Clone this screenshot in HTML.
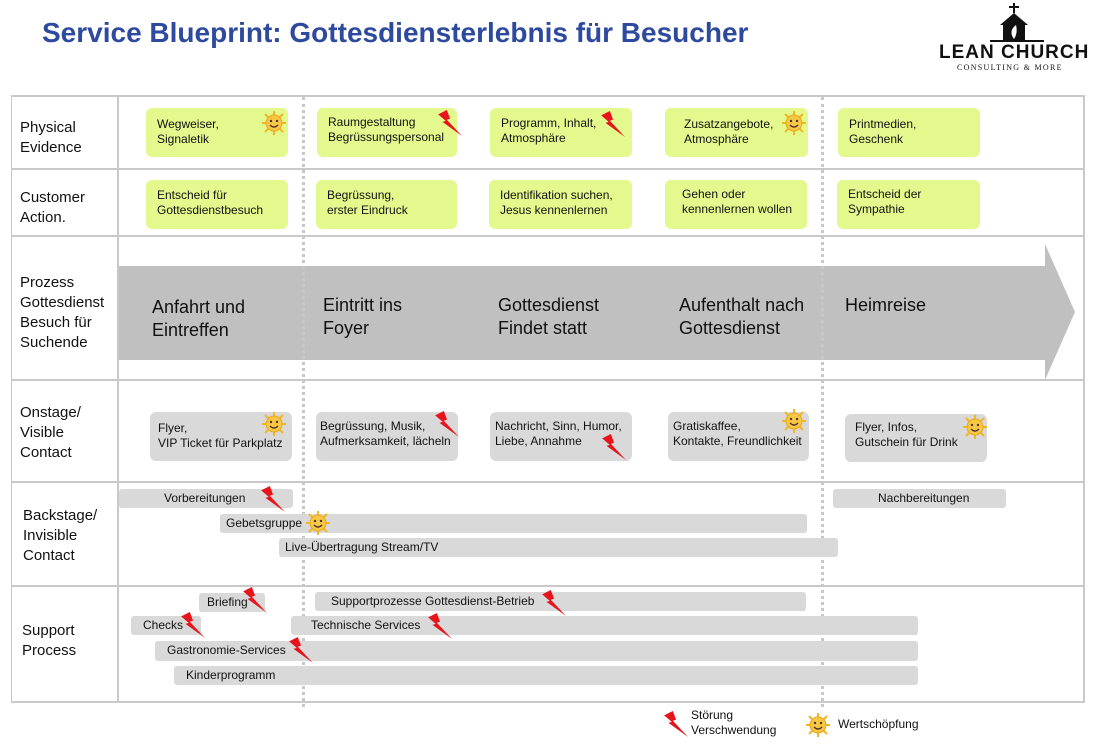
<!DOCTYPE html>
<html><head><meta charset="utf-8"><style>
body{margin:0;width:1107px;height:751px;background:#fff;position:relative;overflow:hidden;font-family:"Liberation Sans",Arial,sans-serif;color:#111}
.a{position:absolute}
.h{position:absolute;left:11px;width:1073px;height:2px;background:#c9c9c9}
.lbl{position:absolute;left:20px;font-size:15px;line-height:20px;color:#111}
.g{position:absolute;background:#e4f98d;border-radius:6px;font-size:12px;line-height:15px;box-sizing:border-box;padding-left:11px;padding-top:9px}
.o{position:absolute;background:#d9d9d9;border-radius:6px;font-size:12px;line-height:15px;box-sizing:border-box;padding-left:8px;padding-top:6px}
.b{position:absolute;background:#d9d9d9;border-radius:3px;font-size:12px;line-height:19px;height:19px;white-space:nowrap}
.p{position:absolute;font-size:18px;line-height:23px;color:#111}
.dash{position:absolute;width:0;border-left:3px dotted #c8c8c8}
</style></head><body>
<svg width="0" height="0" style="position:absolute"><defs>
<symbol id="bolt" viewBox="0 0 24 24"><polygon points="2,4 10,0 13,8 10,9 24,24 6,11 9,10" fill="#e8141b"/></symbol>
<symbol id="sun" viewBox="0 0 24 24"><g stroke="#f0b820" stroke-width="2"><line x1="12" y1="0" x2="12" y2="24"/><line x1="0" y1="12" x2="24" y2="12"/><line x1="3" y1="3" x2="21" y2="21"/><line x1="21" y1="3" x2="3" y2="21"/></g><circle cx="12" cy="12" r="8" fill="#f6c843" stroke="#e8a820"/><circle cx="9" cy="10" r="1.2" fill="#533"/><circle cx="15" cy="10" r="1.2" fill="#533"/><path d="M8 14 Q12 18 16 14" stroke="#533" fill="none" stroke-width="1.3"/></symbol>
</defs></svg>

<div class="a" style="left:42px;top:17px;font-size:28px;font-weight:bold;color:#2e4a9e">Service Blueprint: Gottesdiensterlebnis für Besucher</div>
<svg class="a" style="left:990px;top:3px" width="54" height="40"><rect x="23" y="0" width="2" height="10" fill="#111"/><rect x="19" y="3" width="10" height="2" fill="#111"/><polygon points="10,22 24,10 38,22" fill="#111"/><rect x="13" y="20" width="22" height="18" fill="#111"/><path d="M24 36 Q18 28 26 22 Q28 30 24 36" fill="#fff"/><rect x="0" y="37" width="54" height="2" fill="#111"/></svg>
<div class="a" style="left:939px;top:42px;font-size:19px;font-weight:bold;letter-spacing:1px;color:#111">LEAN CHURCH</div>
<div class="a" style="left:957px;top:63px;font-size:8px;letter-spacing:1.3px;font-family:'Liberation Serif',serif;color:#111">CONSULTING &amp; MORE</div>

<div class="h" style="top:95px"></div>
<div class="h" style="top:168px"></div>
<div class="h" style="top:235px"></div>
<div class="h" style="top:379px"></div>
<div class="h" style="top:481px"></div>
<div class="h" style="top:585px"></div>
<div class="h" style="top:701px"></div>
<div class="a" style="left:11px;top:95px;width:1px;height:608px;background:#c9c9c9"></div>
<div class="a" style="left:117px;top:95px;width:2px;height:608px;background:#c9c9c9"></div>
<div class="a" style="left:1083px;top:95px;width:2px;height:608px;background:#c9c9c9"></div>

<svg class="a" style="left:119px;top:244px" width="960" height="138"><polygon points="0,22 926,22 926,0 956,68 926,136 926,116 0,116" fill="#c0c0c0"/></svg>
<div class="dash" style="left:302px;top:97px;height:610px"></div>
<div class="dash" style="left:821px;top:97px;height:610px"></div>

<div class="lbl" style="top:118px">Physical<br>Evidence</div>
<div class="lbl" style="top:188px">Customer<br>Action.</div>
<div class="lbl" style="top:273px">Prozess<br>Gottesdienst<br>Besuch für<br>Suchende</div>
<div class="lbl" style="top:403px">Onstage/<br>Visible<br>Contact</div>
<div class="lbl" style="top:506px;left:23px">Backstage/<br>Invisible<br>Contact</div>
<div class="lbl" style="top:621px;left:22px">Support<br>Process</div>

<div class="p" style="left:152px;top:296px">Anfahrt und<br>Eintreffen</div>
<div class="p" style="left:323px;top:294px">Eintritt ins<br>Foyer</div>
<div class="p" style="left:498px;top:294px">Gottesdienst<br>Findet statt</div>
<div class="p" style="left:679px;top:294px">Aufenthalt nach<br>Gottesdienst</div>
<div class="p" style="left:845px;top:294px">Heimreise</div>

<div class="g" style="left:146px;top:108px;width:142px;height:49px">Wegweiser,<br>Signaletik</div>
<div class="g" style="left:317px;top:108px;width:140px;height:49px;padding-top:7px">Raumgestaltung<br>Begrüssungspersonal</div>
<div class="g" style="left:490px;top:108px;width:142px;height:49px;padding-top:8px">Programm, Inhalt,<br>Atmosphäre</div>
<div class="g" style="left:665px;top:108px;width:143px;height:49px;padding-left:19px">Zusatzangebote,<br>Atmosphäre</div>
<div class="g" style="left:838px;top:108px;width:142px;height:49px">Printmedien,<br>Geschenk</div>
<div class="g" style="left:146px;top:180px;width:142px;height:49px;padding-top:8px">Entscheid für<br>Gottesdienstbesuch</div>
<div class="g" style="left:316px;top:180px;width:141px;height:49px;padding-top:8px">Begrüssung,<br>erster Eindruck</div>
<div class="g" style="left:489px;top:180px;width:143px;height:49px;padding-top:8px">Identifikation suchen,<br>Jesus kennenlernen</div>
<div class="g" style="left:665px;top:180px;width:142px;height:49px;padding-left:17px;padding-top:7px">Gehen oder<br>kennenlernen wollen</div>
<div class="g" style="left:837px;top:180px;width:143px;height:49px;padding-top:7px">Entscheid der<br>Sympathie</div>
<div class="o" style="left:150px;top:412px;width:142px;height:49px;padding-top:9px">Flyer,<br>VIP Ticket für Parkplatz</div>
<div class="o" style="left:316px;top:412px;width:142px;height:49px;padding-left:4px;padding-top:7px">Begrüssung, Musik,<br>Aufmerksamkeit, lächeln</div>
<div class="o" style="left:490px;top:412px;width:142px;height:49px;padding-left:5px;padding-top:7px">Nachricht, Sinn, Humor,<br>Liebe, Annahme</div>
<div class="o" style="left:668px;top:412px;width:141px;height:49px;padding-left:5px;padding-top:7px">Gratiskaffee,<br>Kontakte, Freundlichkeit</div>
<div class="o" style="left:845px;top:414px;width:142px;height:48px;padding-left:10px;padding-top:6px">Flyer, Infos,<br>Gutschein für Drink</div>
<div class="b" style="left:119px;top:489px;width:174px;padding-left:45px;box-sizing:border-box">Vorbereitungen</div>
<div class="b" style="left:220px;top:514px;width:587px;padding-left:6px;box-sizing:border-box">Gebetsgruppe</div>
<div class="b" style="left:279px;top:538px;width:559px;padding-left:6px;box-sizing:border-box">Live-Übertragung Stream/TV</div>
<div class="b" style="left:833px;top:489px;width:173px;padding-left:45px;box-sizing:border-box">Nachbereitungen</div>
<div class="b" style="left:199px;top:593px;width:66px;padding-left:8px;box-sizing:border-box">Briefing</div>
<div class="b" style="left:315px;top:592px;width:491px;padding-left:16px;box-sizing:border-box">Supportprozesse Gottesdienst-Betrieb</div>
<div class="b" style="left:131px;top:616px;width:70px;padding-left:12px;box-sizing:border-box">Checks</div>
<div class="b" style="left:291px;top:616px;width:627px;padding-left:20px;box-sizing:border-box">Technische Services</div>
<div class="b" style="left:155px;top:641px;width:763px;height:20px;padding-left:12px;box-sizing:border-box">Gastronomie-Services</div>
<div class="b" style="left:174px;top:666px;width:744px;padding-left:12px;box-sizing:border-box">Kinderprogramm</div>

<svg class="a" style="left:262px;top:111px" width="24" height="24"><use href="#sun"/></svg>
<svg class="a" style="left:436px;top:110px" width="26" height="26"><use href="#bolt"/></svg>
<svg class="a" style="left:599px;top:111px" width="26" height="26"><use href="#bolt"/></svg>
<svg class="a" style="left:782px;top:111px" width="24" height="24"><use href="#sun"/></svg>
<svg class="a" style="left:262px;top:412px" width="24" height="24"><use href="#sun"/></svg>
<svg class="a" style="left:433px;top:411px" width="26" height="26"><use href="#bolt"/></svg>
<svg class="a" style="left:600px;top:434px" width="26" height="26"><use href="#bolt"/></svg>
<svg class="a" style="left:782px;top:409px" width="24" height="24"><use href="#sun"/></svg>
<svg class="a" style="left:963px;top:415px" width="24" height="24"><use href="#sun"/></svg>
<svg class="a" style="left:259px;top:486px" width="26" height="26"><use href="#bolt"/></svg>
<svg class="a" style="left:306px;top:511px" width="24" height="24"><use href="#sun"/></svg>
<svg class="a" style="left:241px;top:587px" width="26" height="26"><use href="#bolt"/></svg>
<svg class="a" style="left:540px;top:590px" width="26" height="26"><use href="#bolt"/></svg>
<svg class="a" style="left:179px;top:612px" width="26" height="26"><use href="#bolt"/></svg>
<svg class="a" style="left:426px;top:613px" width="26" height="26"><use href="#bolt"/></svg>
<svg class="a" style="left:287px;top:637px" width="26" height="26"><use href="#bolt"/></svg>

<svg class="a" style="left:662px;top:711px" width="26" height="26"><use href="#bolt"/></svg>
<div class="a" style="left:691px;top:708px;font-size:12px;line-height:15px">Störung<br>Verschwendung</div>
<svg class="a" style="left:806px;top:713px" width="24" height="24"><use href="#sun"/></svg>
<div class="a" style="left:838px;top:717px;font-size:12px">Wertschöpfung</div>
</body></html>
